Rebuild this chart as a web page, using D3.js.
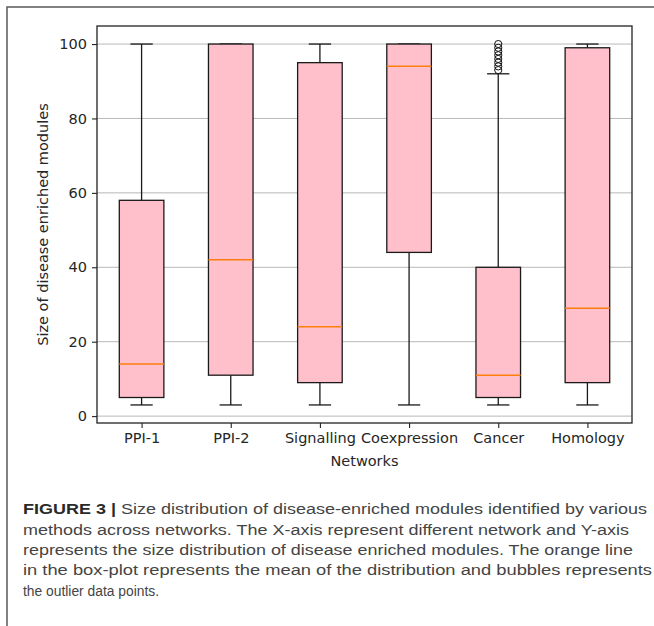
<!DOCTYPE html>
<html>
<head>
<meta charset="utf-8">
<script src="https://cdn.jsdelivr.net/npm/d3@7"></script>
<style>
  html, body { margin: 0; padding: 0; background: #fff; }
  svg { display: block; }
</style>
</head>
<body>
<svg id="chart" width="654" height="626"></svg>
<script>
// ---- data ----
const categories = ["PPI-1", "PPI-2", "Signalling", "Coexpression", "Cancer", "Homology"];
const whiskerLow  = [3, 3, 3, 3, 3, 3];
const q1          = [5, 11, 9, 44, 5, 9];
const medians     = [14, 42, 24, 94, 11, 29];
const q3          = [58, 100, 95, 100, 40, 99];
const whiskerHigh = [100, 100, 100, 100, 92, 100];
const outliers    = [[], [], [], [], [93, 94, 95, 96, 97, 98, 99, 100], []];
const yTicks      = [0, 20, 40, 60, 80, 100];
const yLabel = "Size of disease enriched modules";
const xLabel = "Networks";
const captionBold = "FIGURE 3 | ";
const captionLines = [
  "Size distribution of disease-enriched modules identified by various",
  "methods across networks. The X-axis represent different network and Y-axis",
  "represents the size distribution of disease enriched modules. The orange line",
  "in the box-plot represents the mean of the distribution and bubbles represents",
  "the outlier data points."
];

// ---- layout ----
const svg = d3.select("#chart");
const plot = { left: 97, top: 26, right: 632, bottom: 423 };
const x = d3.scaleLinear().domain([0.5, 6.5]).range([plot.left, plot.right]);
const y = d3.scaleLinear().domain([-1.85, 104.85]).range([plot.bottom, plot.top]);
const boxW = x(1.25) - x(1);   // half-width 0.25 units
const capW = x(1.125) - x(1);
const tickFont = "'DejaVu Sans', sans-serif";

// outer frame
svg.append("rect").attr("x", 7).attr("y", 7).attr("width", 700).attr("height", 700)
  .attr("fill", "none").attr("stroke", "#5a5a5a").attr("stroke-width", 1.5);

// grid
svg.append("g").selectAll("line").data(yTicks).join("line")
  .attr("x1", plot.left).attr("x2", plot.right)
  .attr("y1", d => y(d)).attr("y2", d => y(d))
  .attr("stroke", "#b8b8b8").attr("stroke-width", 1);

const data = categories.map((c, i) => ({
  c, i: i + 1, lo: whiskerLow[i], q1: q1[i], med: medians[i], q3: q3[i], hi: whiskerHigh[i], out: outliers[i]
}));

const g = svg.append("g");
const bx = g.selectAll("g.box").data(data).join("g").attr("class", "box");
// whiskers
bx.append("line").attr("x1", d => x(d.i)).attr("x2", d => x(d.i))
  .attr("y1", d => y(d.lo)).attr("y2", d => y(d.q1)).attr("stroke", "#1a1a1a").attr("stroke-width", 1.3);
bx.append("line").attr("x1", d => x(d.i)).attr("x2", d => x(d.i))
  .attr("y1", d => y(d.q3)).attr("y2", d => y(d.hi)).attr("stroke", "#1a1a1a").attr("stroke-width", 1.3);
// caps
bx.append("line").attr("x1", d => x(d.i) - capW).attr("x2", d => x(d.i) + capW)
  .attr("y1", d => y(d.lo)).attr("y2", d => y(d.lo)).attr("stroke", "#1a1a1a").attr("stroke-width", 1.3);
bx.append("line").attr("x1", d => x(d.i) - capW).attr("x2", d => x(d.i) + capW)
  .attr("y1", d => y(d.hi)).attr("y2", d => y(d.hi)).attr("stroke", "#1a1a1a").attr("stroke-width", 1.3);
// box
bx.append("rect").attr("x", d => x(d.i) - boxW).attr("width", 2 * boxW)
  .attr("y", d => y(d.q3)).attr("height", d => y(d.q1) - y(d.q3))
  .attr("fill", "#ffc0cb").attr("stroke", "#1a1a1a").attr("stroke-width", 1.3);
// median
bx.append("line").attr("x1", d => x(d.i) - boxW).attr("x2", d => x(d.i) + boxW)
  .attr("y1", d => y(d.med)).attr("y2", d => y(d.med)).attr("stroke", "#ff7f0e").attr("stroke-width", 1.5);
// outliers
bx.selectAll("circle").data(d => d.out.map(v => ({ i: d.i, v }))).join("circle")
  .attr("cx", d => x(d.i)).attr("cy", d => y(d.v)).attr("r", 3.6)
  .attr("fill", "none").attr("stroke", "#111").attr("stroke-width", 1);

// axes
const yAxis = svg.append("g").attr("transform", `translate(${plot.left},0)`)
  .call(d3.axisLeft(y).tickValues(yTicks).tickSize(5).tickPadding(5).tickSizeOuter(0));
const xAxis = svg.append("g").attr("transform", `translate(0,${plot.bottom})`)
  .call(d3.axisBottom(x).tickValues(data.map(d => d.i)).tickFormat((d, k) => categories[k])
    .tickSize(5).tickPadding(5).tickSizeOuter(0));
[yAxis, xAxis].forEach(a => {
  a.select(".domain").remove();
  a.selectAll(".tick line").attr("stroke", "#222").attr("stroke-width", 1.1);
  a.selectAll(".tick text").attr("font-family", tickFont).attr("font-size", 14.5).attr("fill", "#262626");
});

// spines
svg.append("rect").attr("x", plot.left).attr("y", plot.top)
  .attr("width", plot.right - plot.left).attr("height", plot.bottom - plot.top)
  .attr("fill", "none").attr("stroke", "#222").attr("stroke-width", 1.3);

// axis labels
svg.append("text").attr("transform", `translate(48,${(plot.top + plot.bottom) / 2}) rotate(-90)`)
  .attr("text-anchor", "middle").attr("font-family", tickFont).attr("font-size", 14.5).attr("fill", "#262626")
  .text(yLabel);
svg.append("text").attr("x", (plot.left + plot.right) / 2).attr("y", 466)
  .attr("text-anchor", "middle").attr("font-family", tickFont).attr("font-size", 14.5).attr("fill", "#262626")
  .text(xLabel);

// caption
const capBase = [514, 535, 555, 575, 596];
const capEnd = [647, 629, 633, 652, 159];
const capFont = "'Liberation Sans', Arial, sans-serif";
captionLines.forEach((line, k) => {
  const t = svg.append("text").attr("x", 23).attr("y", capBase[k])
    .attr("font-family", capFont).attr("font-size", 15.5).attr("fill", "#444");
  if (k === 0) {
    t.append("tspan").attr("font-weight", "bold").attr("fill", "#2a2a2a").text(captionBold);
  }
  t.append("tspan").text(line);
  t.attr("textLength", capEnd[k] - 23).attr("lengthAdjust", "spacingAndGlyphs");
});
</script>
</body>
</html>
